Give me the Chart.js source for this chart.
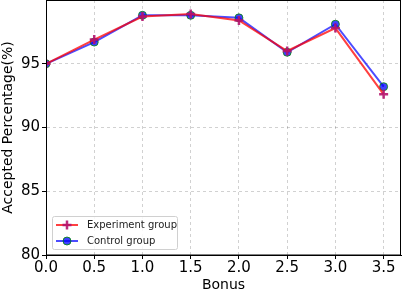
<!DOCTYPE html>
<html>
<head>
<meta charset="utf-8">
<script src="https://cdn.jsdelivr.net/npm/chart.js@4.4.1/dist/chart.umd.min.js"></script>
<style>
  html, body { margin: 0; padding: 0; background: #fff; }
</style>
</head>
<body>
<canvas id="myChart" width="402" height="294"></canvas>
<script>
var bonus = [0.0, 0.5, 1.0, 1.5, 2.0, 2.5, 3.0, 3.5];
var experimentGroup = [95.0, 96.9, 98.7, 98.9, 98.4, 96.0, 97.8, 92.6];
var controlGroup = [95.0, 96.7, 98.8, 98.8, 98.6, 95.9, 98.1, 93.2];
var yTicks = [80, 85, 90, 95];
var xTicks = [0.0, 0.5, 1.0, 1.5, 2.0, 2.5, 3.0, 3.5];

Chart.defaults.font.family = '"DejaVu Sans", sans-serif';
Chart.defaults.color = '#000';

function toPoints(xs, ys) {
  return xs.map(function (x, i) { return { x: x, y: ys[i] }; });
}

// box around the plot + legend in lower left, like matplotlib
var frameAndLegend = {
  id: 'frameAndLegend',
  afterDraw: function (chart) {
    var c = chart.ctx, a = chart.chartArea;
    c.save();
    c.strokeStyle = '#000';
    c.lineWidth = 1;
    c.strokeRect(a.left + 0.5, a.top + 0.5, a.right - a.left - 1, a.bottom - a.top - 0.5);

    var lx = a.left + 6, ly = a.bottom - 39;
    c.fillStyle = 'rgba(255,255,255,0.85)';
    c.strokeStyle = '#d0d0d0';
    c.beginPath();
    c.roundRect(lx + 0.5, ly + 0.5, 125, 33, 2);
    c.fill();
    c.stroke();

    var items = chart.data.datasets;
    c.font = '10px "DejaVu Sans", sans-serif';
    c.textBaseline = 'middle';
    items.forEach(function (ds, i) {
      var yy = ly + 9 + i * 16;
      c.strokeStyle = ds.borderColor;
      c.lineWidth = 2;
      c.beginPath();
      c.moveTo(lx + 4, yy);
      c.lineTo(lx + 26, yy);
      c.stroke();
      var cx = lx + 15;
      if (ds.pointStyle === 'cross') {
        c.strokeStyle = ds.pointBorderColor;
        c.lineWidth = 2.5;
        c.beginPath();
        c.moveTo(cx - 4.5, yy); c.lineTo(cx + 4.5, yy);
        c.moveTo(cx, yy - 4.5); c.lineTo(cx, yy + 4.5);
        c.stroke();
      } else {
        c.fillStyle = ds.pointBackgroundColor;
        c.strokeStyle = ds.pointBorderColor;
        c.lineWidth = 1;
        c.beginPath();
        c.arc(cx, yy, 4, 0, Math.PI * 2);
        c.fill();
        c.stroke();
      }
      c.fillStyle = '#222';
      c.fillText(ds.label, lx + 35, yy);
    });
    c.restore();
  }
};

var ctx = document.getElementById('myChart');
var myChart = new Chart(ctx, {
  type: 'line',
  data: {
    datasets: [{
      label: 'Experiment group',
      data: toPoints(bonus, experimentGroup),
      borderColor: 'rgba(255,0,0,0.75)',
      borderWidth: 2,
      tension: 0,
      pointStyle: 'cross',
      pointRadius: 4.5,
      pointBorderWidth: 2.5,
      pointBorderColor: 'rgba(180,20,110,0.9)',
      pointBackgroundColor: 'rgba(180,20,110,0.9)'
    }, {
      label: 'Control group',
      data: toPoints(bonus, controlGroup),
      borderColor: 'rgba(0,0,255,0.7)',
      borderWidth: 2,
      tension: 0,
      pointStyle: 'circle',
      pointRadius: 4,
      pointBorderWidth: 1,
      pointBorderColor: 'rgba(0,140,0,0.8)',
      pointBackgroundColor: 'rgba(0,0,255,0.75)'
    }]
  },
  options: {
    responsive: false,
    animation: false,
    layout: { autoPadding: false, padding: { top: 0, right: 1, left: 0, bottom: 0 } },
    scales: {
      x: {
        type: 'linear',
        min: 0,
        max: 3.68,
        afterBuildTicks: function (axis) {
          axis.ticks = xTicks.map(function (v) { return { value: v }; });
        },
        afterFit: function (axis) {
          axis.height = 39;
          axis.paddingLeft = 0;
          axis.paddingRight = 0;
        },
        ticks: {
          font: { size: 15 },
          padding: 0,
          maxRotation: 0,
          callback: function (v) { return Number(v).toFixed(1); }
        },
        grid: {
          color: 'rgba(0,0,0,0.18)',
          tickColor: '#000',
          tickLength: 4
        },
        border: { display: true, color: '#000', dash: [3, 3] },
        title: {
          display: true,
          text: 'Bonus',
          font: { size: 14 },
          padding: { top: 0, bottom: 0 }
        }
      },
      y: {
        min: 80,
        max: 100,
        afterBuildTicks: function (axis) {
          axis.ticks = yTicks.map(function (v) { return { value: v }; });
        },
        afterFit: function (axis) {
          axis.width = 46;
          axis.paddingTop = 0;
          axis.paddingBottom = 0;
        },
        ticks: {
          font: { size: 15 },
          padding: 2
        },
        grid: {
          color: 'rgba(0,0,0,0.18)',
          tickColor: '#000',
          tickLength: 4
        },
        border: { display: true, color: '#000', dash: [3, 3] },
        title: {
          display: true,
          text: 'Accepted Percentage(%)',
          font: { size: 14 },
          padding: { top: 0, bottom: 0 }
        }
      }
    },
    plugins: {
      legend: { display: false },
      tooltip: { enabled: false }
    }
  },
  plugins: [frameAndLegend]
});
</script>
</body>
</html>
